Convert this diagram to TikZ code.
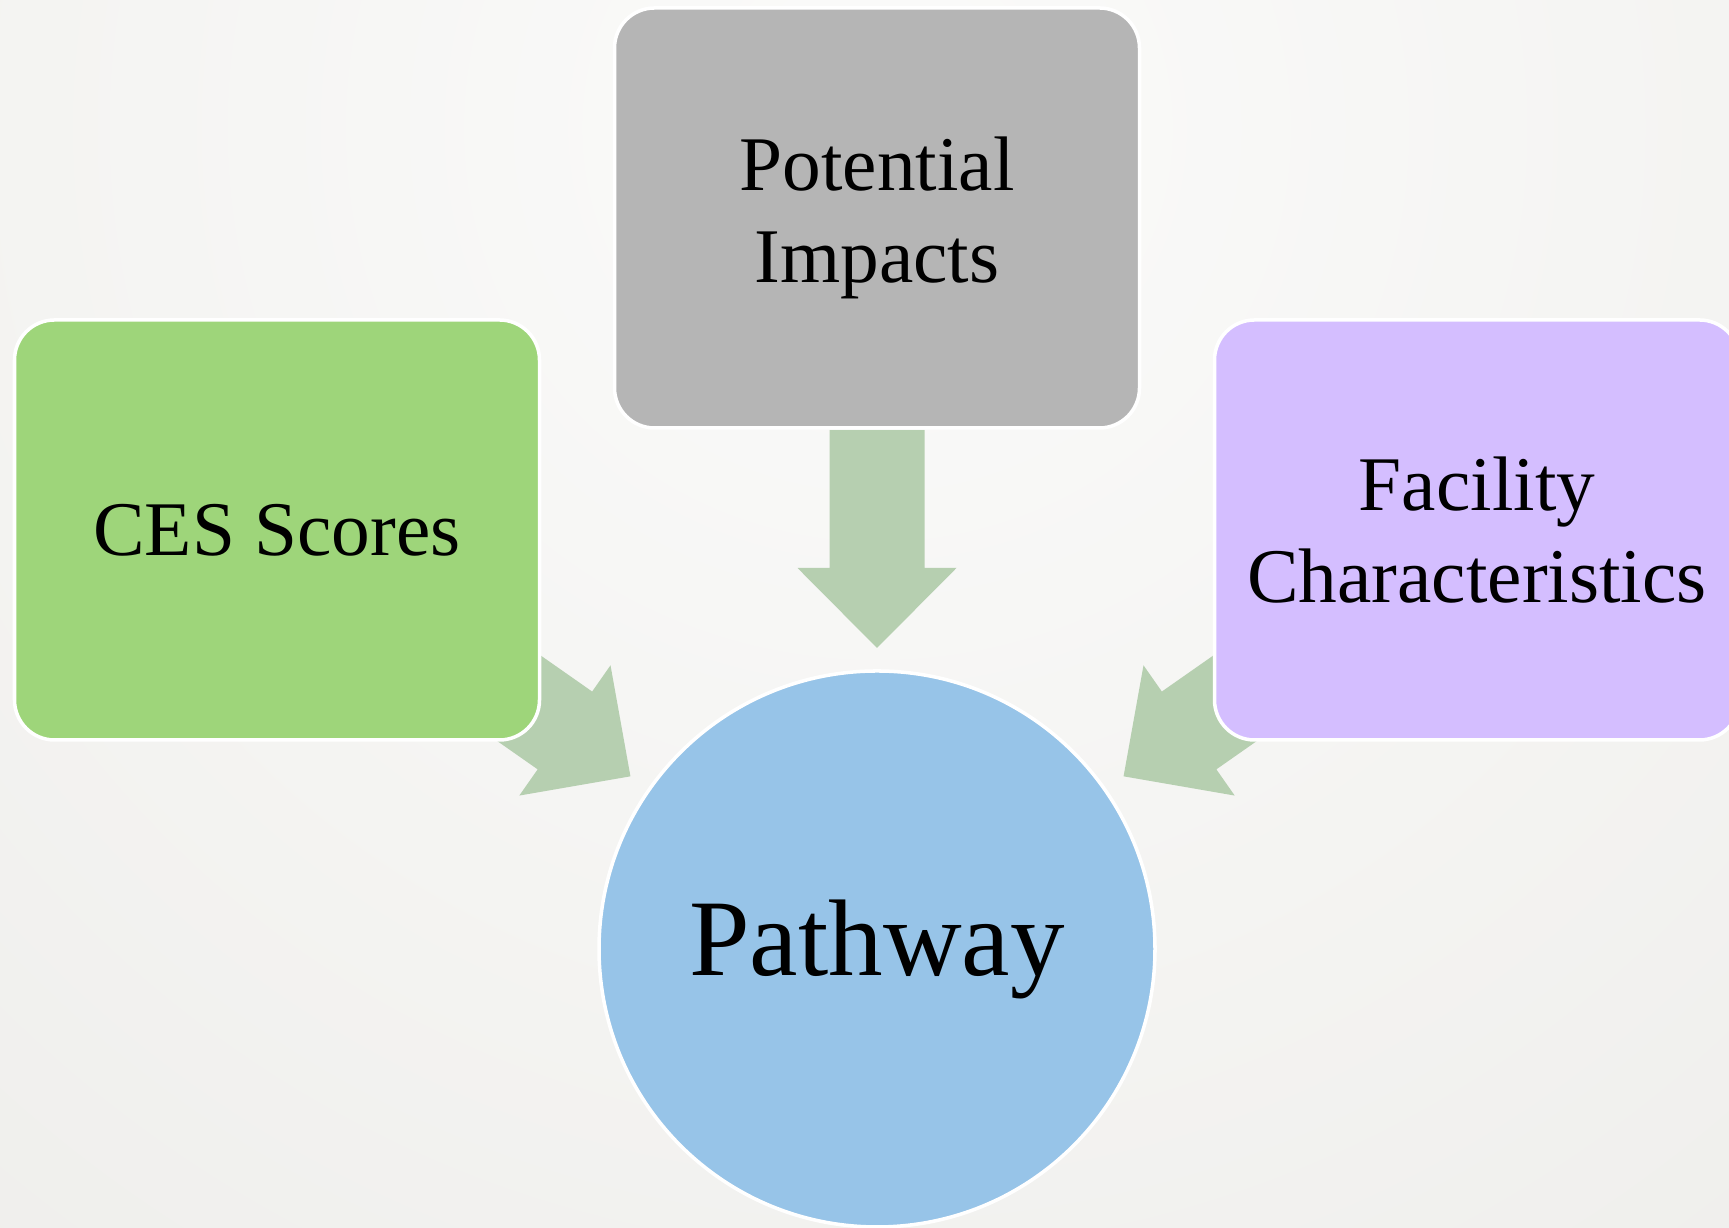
\documentclass[tikz,border=0pt]{standalone}
\usepackage{fontspec}
\setmainfont{Liberation Serif}
\usetikzlibrary{calc}
\definecolor{impactgray}{HTML}{B5B5B5}
\definecolor{cesgreen}{HTML}{9ED57A}
\definecolor{facpurple}{HTML}{D4BEFF}
\definecolor{pathblue}{HTML}{97C4E8}
\definecolor{arrowgreen}{HTML}{B6CFB0}
\definecolor{bginner}{HTML}{FBFBFA}
\definecolor{bgouter}{HTML}{E6E5E1}
\pgfdeclarelayer{back}
\pgfsetlayers{back,main}
\tikzset{
  box/.style={rectangle,rounded corners=0.4cm,draw=white,line width=1pt,
    minimum width=5.25cm,minimum height=4.2cm,align=center,
    font=\fontsize{22}{26}\selectfont},
  bigarrow/.pic={
    \fill[arrowgreen] (0,0.475) -- (1.38,0.475) -- (1.38,0.795) -- (2.18,0)
      -- (1.38,-0.795) -- (1.38,-0.475) -- (0,-0.475) -- cycle;
  }
}
\begin{document}
\begin{tikzpicture}
  \useasboundingbox (0,0) rectangle (17.29,12.28);
  \node [box,fill=impactgray] (impacts) at (8.77,10.10) {Potential\\Impacts};
  \node [box,fill=cesgreen] (ces) at (2.77,6.98) {CES Scores};
  \node [box,fill=facpurple] (facility) at (14.77,6.98) {Facility\\Characteristics};
  \node [shape=circle,draw=white,line width=1pt,fill=pathblue,minimum size=5.56cm,
    font=\fontsize{31}{34}\selectfont] (pathway) at (8.77,2.79) {Pathway};
  \begin{pgfonlayer}{back}
    \begin{scope}
      \clip (0,0) rectangle (17.29,12.28);
      \shade [inner color=bginner,outer color=bgouter] (8.77,11) circle (26);
    \end{scope}
    % arrows into the circle
    \foreach \a in {145,90,35}
      \pic [rotate=\a+180] at ($(pathway.center)+(\a:5.19)$) {bigarrow};
  \end{pgfonlayer}
\end{tikzpicture}
\end{document}
